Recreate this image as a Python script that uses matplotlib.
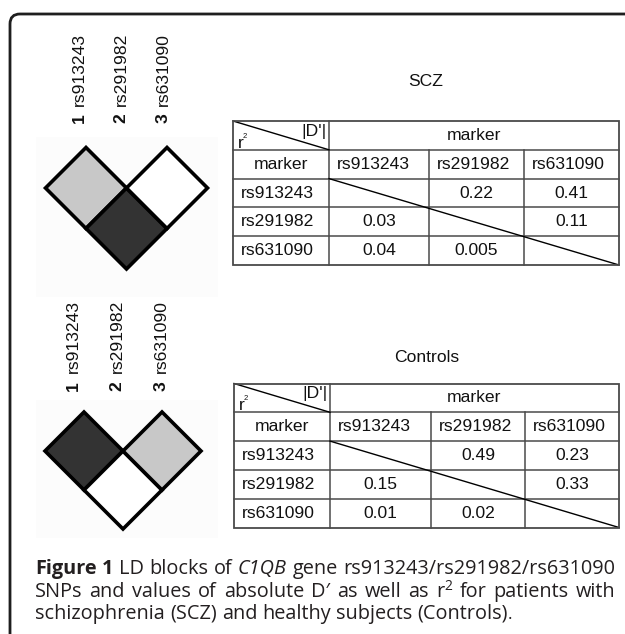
import matplotlib
matplotlib.use("Agg")
import numpy as np
import matplotlib.pyplot as plt
from matplotlib.patches import Polygon, Rectangle, PathPatch
from matplotlib.path import Path

# ---------------- data ----------------
markers = ["rs913243", "rs291982", "rs631090"]
marker_nums = ["1", "2", "3"]
groups = ["SCZ", "Controls"]
pairs = [(0, 1), (0, 2), (1, 2)]
scz_dprime = ["0.22", "0.41", "0.11"]
scz_r2 = ["0.03", "0.04", "0.005"]
ctrl_dprime = ["0.49", "0.23", "0.33"]
ctrl_r2 = ["0.15", "0.01", "0.02"]
shade_levels = ["#ffffff", "#c8c8c8", "#333333"]  # low -> high |D'|
header_label = "marker"
corner_r = "r"
corner_d = "|D'|"

ARIAL = ["Liberation Sans", "DejaVu Sans"]
CAP = ["Open Sans", "DejaVu Sans"]
FS = 12.6

W, H = 625, 634
fig = plt.figure(figsize=(W / 100, H / 100), dpi=100)
ax = fig.add_axes([0, 0, 1, 1])
ax.set_xlim(0, W)
ax.set_ylim(H, 0)
ax.axis("off")

# frame (top + left rounded border)
frame = Path([(10, H + 5), (10, 24), (10, 14), (20, 14), (W + 5, 14)],
             [Path.MOVETO, Path.LINETO, Path.CURVE3, Path.CURVE3, Path.LINETO])
ax.add_patch(PathPatch(frame, fc="none", ec="#1e1e1e", lw=2.0))

panels = [
    dict(name="SCZ", dprime=scz_dprime, r2=scz_r2,
         bg=(36, 137, 182, 160), lab_x0=79, lab_dx=42, num_y=123, name_y=106,
         x0=45.5, y0=147.5, h=40.5, title_y=82,
         ttop=121, rh=28.8, cols=[233, 329, 429, 524, 619]),
    dict(name="Controls", dprime=ctrl_dprime, r2=ctrl_r2,
         bg=(36, 400, 182, 138), lab_x0=73, lab_dx=44, num_y=391, name_y=373,
         x0=45, y0=412, h=39, title_y=357,
         ttop=383.5, rh=28.8, cols=[234, 330, 431, 525, 619]),
]

LC = "#4a4a4a"
for P in panels:
    ax.add_patch(Rectangle((P["bg"][0], P["bg"][1]), P["bg"][2], P["bg"][3],
                           fc="#fcfcfc", ec="none", zorder=0))
    # marker labels
    for k, (num, name) in enumerate(zip(marker_nums, markers)):
        lx = P["lab_x0"] + k * P["lab_dx"]
        ax.text(lx, P["num_y"], num, rotation=90, rotation_mode="anchor",
                ha="left", va="center", fontsize=FS, fontweight="bold",
                family=ARIAL, color="#111")
        ax.text(lx, P["name_y"], name, rotation=90, rotation_mode="anchor",
                ha="left", va="center", fontsize=FS, family=ARIAL, color="#111")
    # LD diamonds
    vals = [float(v) for v in P["dprime"]]
    ranks = np.argsort(np.argsort(vals))
    h = P["h"]
    for (i, j), rk in zip(pairs, ranks):
        cx = P["x0"] + (i + j) * h
        cy = P["y0"] + (j - i) * h
        ax.add_patch(Polygon([(cx, cy - h), (cx + h, cy), (cx, cy + h), (cx - h, cy)],
                             closed=True, fc=shade_levels[rk], ec="black", lw=2.6,
                             joinstyle="miter", zorder=2))
    # title
    cols = P["cols"]
    ax.text((cols[0] + cols[4]) / 2, P["title_y"], P["name"], ha="center",
            va="center", fontsize=FS, family=ARIAL, color="#111")
    # table lines
    top, rh = P["ttop"], P["rh"]
    bot = top + 5 * rh
    ax.add_patch(Rectangle((cols[0], top), cols[4] - cols[0], bot - top,
                           fc="none", ec=LC, lw=1.3, zorder=3))
    for r in range(1, 5):
        ax.plot([cols[0], cols[4]], [top + r * rh] * 2, color=LC, lw=1.1)
    ax.plot([cols[1]] * 2, [top, bot], color=LC, lw=1.1)
    for c in (2, 3):
        ax.plot([cols[c]] * 2, [top + rh, bot], color=LC, lw=1.1)
    ax.plot([cols[0], cols[1]], [top, top + rh], color="black", lw=1.0)
    ax.plot([cols[1], cols[4]], [top + 2 * rh, bot], color="black", lw=1.0)
    # corner cell
    ax.text(cols[0] + 5, top + rh - 2, corner_r, ha="left", va="baseline",
            fontsize=FS, family=ARIAL, color="#111")
    ax.text(cols[0] + 10, top + rh - 12, "2", ha="left", va="baseline",
            fontsize=5.5, family=ARIAL, color="#111")
    ax.text(cols[1] - 2, top + rh / 2 - 4, corner_d, ha="right", va="center",
            fontsize=FS, family=ARIAL, color="#111")
    # header texts
    ax.text((cols[1] + cols[4]) / 2, top + rh / 2, header_label, ha="center",
            va="center", fontsize=FS, family=ARIAL, color="#111")
    ax.text((cols[0] + cols[1]) / 2, top + 1.5 * rh, header_label, ha="center",
            va="center", fontsize=FS, family=ARIAL, color="#111")
    for c, name in enumerate(markers):
        ax.text(cols[c + 1] + 8, top + 1.5 * rh, name, ha="left", va="center",
                fontsize=FS, family=ARIAL, color="#111")
        ax.text(cols[0] + 8, top + (2.5 + c) * rh, name, ha="left", va="center",
                fontsize=FS, family=ARIAL, color="#111")
    for (i, j), d, r2 in zip(pairs, P["dprime"], P["r2"]):
        ax.text((cols[j + 1] + cols[j + 2]) / 2, top + (2.5 + i) * rh, d,
                ha="center", va="center", fontsize=FS, family=ARIAL, color="#111")
        ax.text((cols[i + 1] + cols[i + 2]) / 2, top + (2.5 + j) * rh, r2,
                ha="center", va="center", fontsize=FS, family=ARIAL, color="#111")

# ---------------- caption (justified) ----------------
# each word: (text, weight, style, size_scale, dy, attach_to_previous)
N, B, I = "normal", "bold", "italic"
caption_lines = [
    [("Figure", B, N), ("1", B, N), ("LD", N, N), ("blocks", N, N), ("of", N, N),
     ("C1QB", N, I), ("gene", N, N), ("rs913243/rs291982/rs631090", N, N)],
    [("SNPs", N, N), ("and", N, N), ("values", N, N), ("of", N, N), ("absolute", N, N),
     ("D\u2032", N, N), ("as", N, N), ("well", N, N), ("as", N, N), ("r", N, N),
     ("2", N, N, 0.7, -7, True), ("for", N, N), ("patients", N, N), ("with", N, N)],
    [("schizophrenia", N, N), ("(SCZ)", N, N), ("and", N, N), ("healthy", N, N),
     ("subjects", N, N), ("(Controls)", N, N), (".", N, N, 0.85, 0, True)],
]
justify = [True, True, False]
CFS = 14.3
CX0, CX1 = 35, 615
baselines = [574, 597, 619]
renderer = fig.canvas.get_renderer()


def text_w(s, **kw):
    t = ax.text(0, 0, s, **kw)
    w = t.get_window_extent(renderer).width
    t.remove()
    return w


space_w = text_w("a a", fontsize=CFS, family=CAP) - text_w("aa", fontsize=CFS, family=CAP)
for line, yb, just in zip(caption_lines, baselines, justify):
    words = []
    for wd in line:
        s, wt, st = wd[:3]
        sc = wd[3] if len(wd) > 3 else 1.0
        dy = wd[4] if len(wd) > 4 else 0
        att = wd[5] if len(wd) > 5 else False
        kw = dict(fontsize=CFS * sc, fontweight=wt, fontstyle=st, family=CAP)
        words.append((s, kw, dy, att, text_w(s, **kw)))
    ngaps = sum(1 for k, w in enumerate(words) if k > 0 and not w[3])
    total = sum(w[4] for w in words)
    gap = (CX1 - CX0 - total) / ngaps if just else space_w
    x = CX0
    for k, (s, kw, dy, att, wdt) in enumerate(words):
        if k > 0 and not att:
            x += gap
        ax.text(x, yb + dy, s, ha="left", va="baseline", color="#231f20", **kw)
        x += wdt

fig.savefig("out.png", dpi=100)
